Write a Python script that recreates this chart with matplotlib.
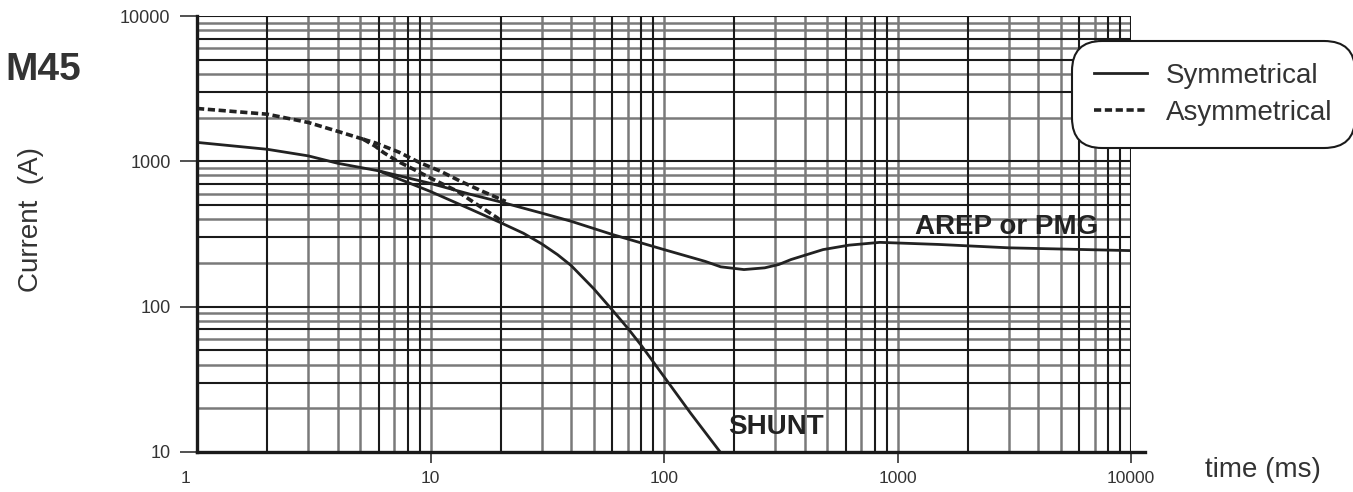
import matplotlib as mpl
mpl.use('Agg')

import matplotlib.pyplot as plt
import matplotlib.transforms as mtransforms
import numpy as np

plt.rcParams['font.family'] = ['Liberation Sans', 'DejaVu Sans']

# short-circuit current decrement, M45
t_sym = [1, 2, 3, 4, 6, 10, 15, 20, 30, 40, 60, 100, 150, 175, 220, 270,
         310, 350, 480, 620, 840, 1500, 3000, 10000]
i_arep = [1350, 1210, 1090, 970, 860, 705, 590, 525, 440, 387, 314, 247,
          205, 188, 180, 185, 195, 211, 247, 265, 277, 268, 254, 243]

t_shunt = [6, 10, 15, 20, 25, 30, 35, 40, 50, 60, 70, 80, 100, 130, 174]
i_shunt = [860, 620, 465, 378, 320, 270, 228, 192, 133, 95, 71, 54, 33, 18.5, 10]

# asymmetrical: common start, then one branch to each symmetrical curve
t_asym = [1, 2, 3, 4.1, 5.15]
i_asym = [2310, 2110, 1850, 1590, 1420]
t_asym_arep = [5.15, 5.8, 7.3, 9, 11, 13.4, 16.6, 21]
i_asym_arep = [1420, 1340, 1159, 979, 857, 731, 624, 530]
t_asym_shunt = [5.15, 5.8, 6.3, 7.2, 8.2, 10.25, 13, 15.8, 19.3, 20.5]
i_asym_shunt = [1420, 1270, 1148, 1005, 905, 752, 624, 505, 409, 378]

x_ticks = [1, 10, 100, 1000, 10000]
y_ticks = [10, 100, 1000, 10000]

ink = '#222222'
txt = '#333333'
dash = (0, (2.0, 1.0))

fig = plt.figure(figsize=(13.53, 4.92), dpi=100)
ax = fig.add_axes([197 / 1353, 40 / 492, 934 / 1353, 436 / 492])
ax.set_xscale('log')
ax.set_yscale('log')
ax.set_xlim(1, 10000)
ax.set_ylim(10, 10000)

# log paper: some lines printed dark, others soft grey
dark = dict(color='#1a1a1a', lw=1.5, zorder=1)
soft = dict(color='#7a7a7a', lw=1.8, zorder=0.5)
for dec in [1, 10, 100, 1000]:
    for m in range(2, 11):
        style = dark if m in (2, 6, 8, 9) else soft
        ax.axvline(m * dec, **style)
ax.axvline(10000, **dark)
for dec in [10, 100, 1000]:
    for m in range(2, 11):
        style = dark if m in (3, 5, 7, 10) else soft
        ax.axhline(m * dec, **style)

ax.plot(t_sym, i_arep, color=ink, lw=2.0, zorder=3, label='Symmetrical')
ax.plot(t_shunt, i_shunt, color=ink, lw=2.0, zorder=3)
ax.plot(t_asym, i_asym, color=ink, lw=2.6, ls=dash, zorder=3, label='Asymmetrical')
ax.plot(t_asym_arep, i_asym_arep, color=ink, lw=2.6, ls=dash, zorder=3)
ax.plot(t_asym_shunt, i_asym_shunt, color=ink, lw=2.6, ls=dash, zorder=3)

for side in ['top', 'right']:
    ax.spines[side].set_visible(False)
for side in ['left', 'bottom']:
    ax.spines[side].set_linewidth(2.4)
    ax.spines[side].set_color('#1a1a1a')
    ax.spines[side].set_zorder(4)
ax.spines['bottom'].set_bounds(1, 11500)

ax.set_xticks(x_ticks)
ax.set_xticklabels([str(v) for v in x_ticks])
ax.set_yticks(y_ticks)
ax.set_yticklabels([str(v) for v in y_ticks])
ax.minorticks_off()
ax.tick_params(axis='y', direction='out', length=12, width=1.2, pad=7,
               labelsize=13, colors=txt)
ax.tick_params(axis='x', direction='out', length=8, width=1.2, pad=6,
               labelsize=12.5, colors=txt)
ax.xaxis.get_major_ticks()[0].tick1line.set_visible(False)
first = ax.get_xticklabels()[0]
first.set_transform(first.get_transform() +
                    mtransforms.ScaledTranslation(-11 / 100, 0, fig.dpi_scale_trans))

ax.text(188, 14.8, 'SHUNT', fontsize=20, fontweight='bold', color=ink,
        va='center', ha='left', zorder=5)
ax.text(1189, 355, 'AREP or PMG', fontsize=20, fontweight='bold', color=ink,
        va='center', ha='left', zorder=5)

fig.text(5 / 1353, 1 - 70 / 492, 'M45', fontsize=28, fontweight='bold',
         color=txt, va='center', ha='left')
fig.text(31 / 1353, 1 - 220 / 492, 'Current  (A)', fontsize=20,
         color=txt, rotation=90, va='center', ha='center')
fig.text(1205 / 1353, 1 - 470 / 492, 'time (ms)', fontsize=20,
         color=txt, va='center', ha='left')

leg = ax.legend(loc='upper left', bbox_to_anchor=(1080 / 1353, 1 - 49 / 492),
                bbox_transform=fig.transFigure, fontsize=20, frameon=True,
                handlelength=1.9, handletextpad=0.7, labelspacing=0.4,
                borderpad=0.5, borderaxespad=0, fancybox=True, labelcolor=txt)
frame = leg.get_frame()
frame.set_edgecolor('#1a1a1a')
frame.set_linewidth(1.5)
frame.set_facecolor('white')
frame.set_alpha(1)
frame.set_boxstyle('round', pad=0.3, rounding_size=1.1)
leg.set_zorder(6)

fig.savefig('out.png', dpi=100)
